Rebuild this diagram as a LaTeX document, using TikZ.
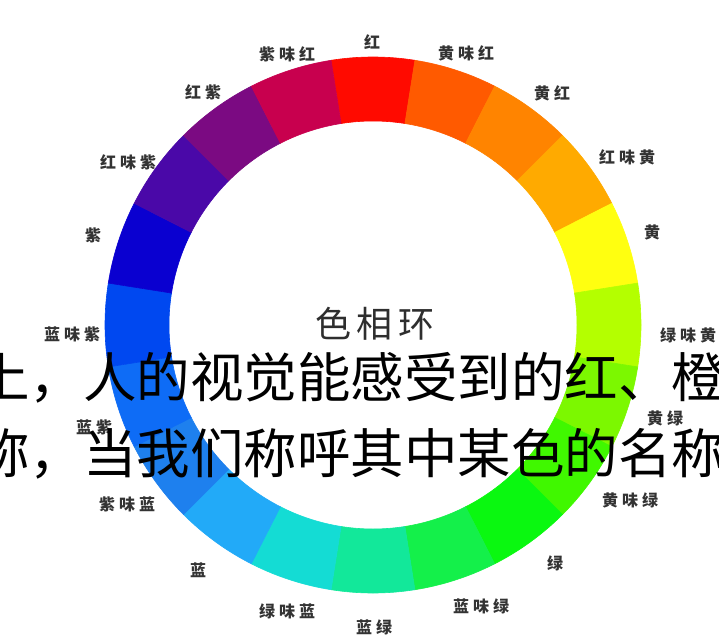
\documentclass[tikz,border=0pt]{standalone}
\usepackage{fontspec}
\newfontfamily\cjk{Noto Sans CJK SC}
\definecolor{labgray}{HTML}{333333}
\definecolor{titgray}{HTML}{2E2E2E}
\definecolor{s01}{HTML}{FF0A00}
\definecolor{s02}{HTML}{FF5A00}
\definecolor{s03}{HTML}{FF8400}
\definecolor{s04}{HTML}{FFAA00}
\definecolor{s05}{HTML}{FFFF10}
\definecolor{s06}{HTML}{B4FF00}
\definecolor{s07}{HTML}{7CF800}
\definecolor{s08}{HTML}{40F800}
\definecolor{s09}{HTML}{0AF810}
\definecolor{s10}{HTML}{14F04A}
\definecolor{s11}{HTML}{12E89A}
\definecolor{s12}{HTML}{14DCD4}
\definecolor{s13}{HTML}{22AAF8}
\definecolor{s14}{HTML}{1E80EE}
\definecolor{s15}{HTML}{0E6CF6}
\definecolor{s16}{HTML}{0048F0}
\definecolor{s17}{HTML}{0A00D0}
\definecolor{s18}{HTML}{4A08A8}
\definecolor{s19}{HTML}{7B0A82}
\definecolor{s20}{HTML}{C8004E}
\newcommand\lsp{\hspace{4pt}}
\newcommand\tsp{\hspace{6pt}}
\begin{document}
\begin{tikzpicture}[x=1pt,y=1pt,
  seg/.style={fill=#1,draw=#1,line width=0.6pt},
  lab/.style={font=\cjk\bfseries\fontsize{16}{16}\selectfont, text=labgray, inner sep=0pt, anchor=center},
  title/.style={font=\cjk\fontsize{36}{36}\selectfont, text=titgray, inner sep=0pt, anchor=center},
  big/.style={font=\cjk\fontsize{53.5}{60}\selectfont, text=black, inner sep=0pt, anchor=base west},
]
\useasboundingbox (0,0) rectangle (719,-639);
\fill[white] (0,0) rectangle (719,-639);
\clip (0,0) rectangle (719,-639);
\coordinate (c) at (373,-325);
\foreach \a/\col in {90/s01,72/s02,54/s03,36/s04,18/s05,0/s06,-18/s07,-36/s08,-54/s09,-72/s10,-90/s11,-108/s12,-126/s13,-144/s14,-162/s15,-180/s16,-198/s17,-216/s18,-234/s19,-252/s20}{
  \path[seg=\col] ([shift={({\a+9}:268pt)}]c) arc[start angle={\a+9}, end angle={\a-9}, radius=268pt]
    -- ([shift={({\a-9}:204pt)}]c) arc[start angle={\a-9}, end angle={\a+9}, radius=204pt] -- cycle;
}
\node[title] (t) at (375,-324) {色\tsp 相\tsp 环};
% labels
\node[lab] (l01) at (372,-42) {红};
\node[lab] (l02) at (466,-53) {黄\lsp 味\lsp 红};
\node[lab] (l03) at (552,-93) {黄\lsp 红};
\node[lab] (l04) at (627,-157) {红\lsp 味\lsp 黄};
\node[lab] (l05) at (652,-232) {黄};
\node[lab] (l06) at (688,-335) {绿\lsp 味\lsp 黄};
\node[lab] (l07) at (665,-418) {黄\lsp 绿};
\node[lab] (l08) at (630,-500) {黄\lsp 味\lsp 绿};
\node[lab] (l09) at (555,-563) {绿};
\node[lab] (l10) at (481,-606) {蓝\lsp 味\lsp 绿};
\node[lab] (l11) at (374,-627) {蓝\lsp 绿};
\node[lab] (l12) at (287,-611) {绿\lsp 味\lsp 蓝};
\node[lab] (l13) at (198,-570) {蓝};
\node[lab] (l14) at (127,-504) {紫\lsp 味\lsp 蓝};
\node[lab] (l15) at (94,-427) {蓝\lsp 紫};
\node[lab] (l16) at (72,-334) {蓝\lsp 味\lsp 紫};
\node[lab] (l17) at (93,-235) {紫};
\node[lab] (l18) at (128,-162) {红\lsp 味\lsp 紫};
\node[lab] (l19) at (203,-92) {红\lsp 紫};
\node[lab] (l20) at (287,-54) {紫\lsp 味\lsp 红};
% overlaid text
\node[big] (b1) at (-24,-397) {上，人的视觉能感受到的红、橙};
\node[big] (b2) at (-24,-473) {称，当我们称呼其中某色的名称};
\end{tikzpicture}
\end{document}
